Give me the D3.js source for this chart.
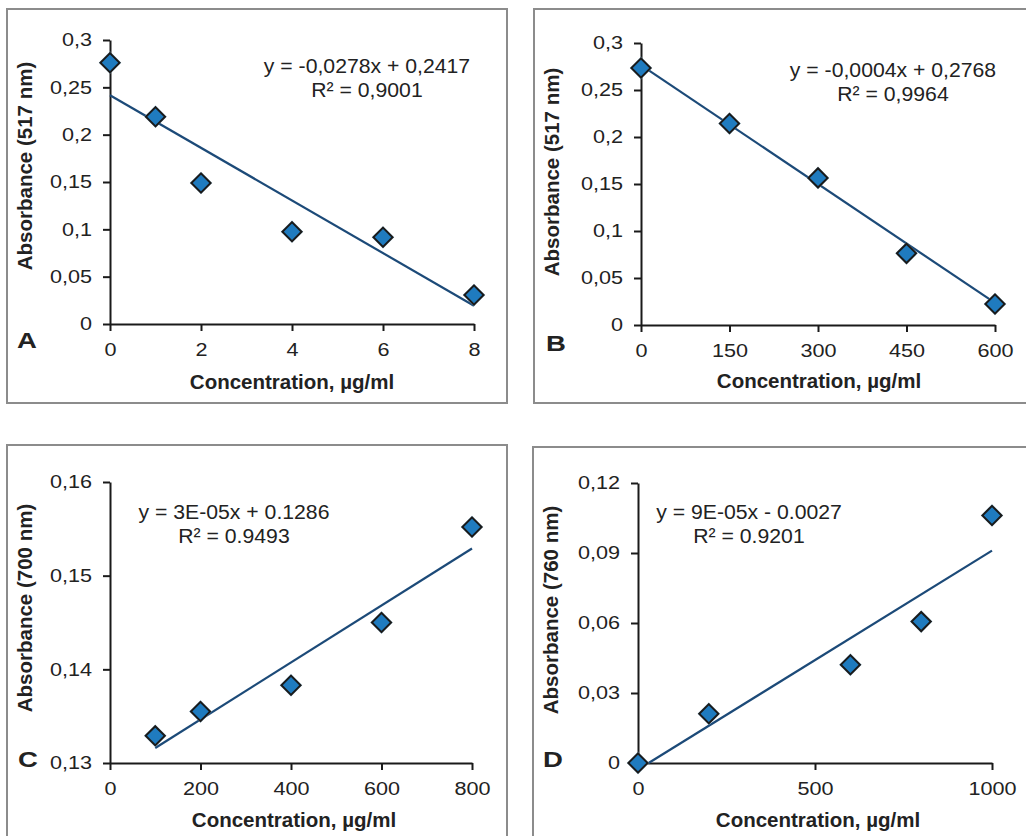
<!DOCTYPE html>
<html>
<head>
<meta charset="utf-8">
<script src="https://cdn.jsdelivr.net/npm/d3@7"></script>
<style>
  body { margin: 0; background: #fff; }
  svg { display: block; font-family: "Liberation Sans", Arial, sans-serif; }
</style>
</head>
<body>
<svg id="chart"></svg>
<script>
// panel A: DPPH at 517 nm
const concA = [0, 1, 2, 4, 6, 8];
const absA = [0.276, 0.219, 0.149, 0.0975, 0.0916, 0.0306];
const trendA = [[0, 0.2417], [8, 0.0193]];
const xTicksA = [0, 2, 4, 6, 8];
const yTicksA = [0, 0.05, 0.1, 0.15, 0.2, 0.25, 0.3];
const eqA = ["y = -0,0278x + 0,2417", "R² = 0,9001"];

// panel B: DPPH at 517 nm
const concB = [0, 150, 300, 450, 600];
const absB = [0.2734, 0.2143, 0.1565, 0.0762, 0.0223];
const trendB = [[0, 0.2765], [600, 0.0235]];
const xTicksB = [0, 150, 300, 450, 600];
const yTicksB = [0, 0.05, 0.1, 0.15, 0.2, 0.25, 0.3];
const eqB = ["y = -0,0004x + 0,2768", "R² = 0,9964"];

// panel C: reducing power at 700 nm
const concC = [100, 200, 400, 600, 800];
const absC = [0.1329, 0.1355, 0.1383, 0.1450, 0.1552];
const trendC = [[100, 0.1316], [800, 0.1529]];
const xTicksC = [0, 200, 400, 600, 800];
const yTicksC = [0.13, 0.14, 0.15, 0.16];
const eqC = ["y = 3E-05x + 0.1286", "R² = 0.9493"];

// panel D: at 760 nm
const concD = [0, 200, 600, 800, 1000];
const absD = [0, 0.0211, 0.0421, 0.0606, 0.1061];
const trendD = [[30, 0], [1000, 0.091]];
const xTicksD = [0, 500, 1000];
const yTicksD = [0, 0.03, 0.06, 0.09, 0.12];
const eqD = ["y = 9E-05x - 0.0027", "R² = 0.9201"];

const xTitle = "Concentration, µg/ml";

const width = 1026;
const height = 836;

const svg = d3.select("#chart")
    .attr("width", width)
    .attr("height", height);

const panels = [
  { letter: "A", x: concA, y: absA, trend: trendA, xt: xTicksA, yt: yTicksA, eq: eqA,
    ytitle: "Absorbance (517 nm)", xd: [0, 8], yd: [0, 0.3],
    box: [7, 9, 500, 394], px: [110, 474], py: [324, 40],
    ytx: 32, yty: 166, xtx: 292, xty: 389, lx: 17, ly: 348, eqx: 367, eqy: 73 },
  { letter: "B", x: concB, y: absB, trend: trendB, xt: xTicksB, yt: yTicksB, eq: eqB,
    ytitle: "Absorbance (517 nm)", xd: [0, 600], yd: [0, 0.3],
    box: [534, 9, 500, 394], px: [641, 995], py: [325, 43],
    ytx: 559, yty: 172, xtx: 819, xty: 388, lx: 546, ly: 351, eqx: 893, eqy: 77 },
  { letter: "C", x: concC, y: absC, trend: trendC, xt: xTicksC, yt: yTicksC, eq: eqC,
    ytitle: "Absorbance (700 nm)", xd: [0, 800], yd: [0.13, 0.16],
    box: [7, 445, 500, 400], px: [110, 472], py: [763, 482],
    ytx: 32, yty: 608, xtx: 294, xty: 827, lx: 18, ly: 767, eqx: 234, eqy: 519 },
  { letter: "D", x: concD, y: absD, trend: trendD, xt: xTicksD, yt: yTicksD, eq: eqD,
    ytitle: "Absorbance (760  nm)", xd: [0, 1000], yd: [0, 0.12],
    box: [533, 447, 500, 400], px: [638, 992], py: [763, 483],
    ytx: 558, yty: 610, xtx: 818, xty: 827, lx: 543, ly: 767, eqx: 749, eqy: 519 }
];

const comma = d => String(d).replace(".", ",");

// the source text looks a bit wider than Arial, so stretch it
function stretch(sel, k) {
  sel.each(function() {
    const len = this.getComputedTextLength();
    d3.select(this)
      .attr("textLength", len * k)
      .attr("lengthAdjust", "spacingAndGlyphs");
  });
}

panels.forEach(function(p) {
  const g = svg.append("g");

  g.append("rect")
      .attr("x", p.box[0])
      .attr("y", p.box[1])
      .attr("width", p.box[2])
      .attr("height", p.box[3])
      .attr("fill", "none")
      .attr("stroke", "#8c8c8c")
      .attr("stroke-width", 2);

  const xScale = d3.scaleLinear().domain(p.xd).range(p.px);
  const yScale = d3.scaleLinear().domain(p.yd).range(p.py);

  const yAxis = g.append("g")
      .attr("transform", `translate(${p.px[0]}, 0)`)
      .call(d3.axisLeft(yScale).tickValues(p.yt).tickSize(7).tickSizeOuter(0)
        .tickPadding(11).tickFormat(comma));

  const xAxis = g.append("g")
      .attr("transform", `translate(0, ${p.py[0]})`)
      .call(d3.axisBottom(xScale).tickValues(p.xt).tickSize(7).tickSizeOuter(0)
        .tickPadding(12).tickFormat(d => d));

  [yAxis, xAxis].forEach(function(ax) {
    ax.select(".domain").attr("stroke", "#1a1a1a").attr("stroke-width", 2);
    ax.selectAll(".tick line").attr("stroke", "#1a1a1a").attr("stroke-width", 2);
    ax.selectAll(".tick text")
        .attr("fill", "#222")
        .style("font-size", "18px")
        .style("font-family", "'Liberation Sans', Arial, sans-serif")
        .call(stretch, 1.2);
  });

  // trend line
  g.append("path")
      .datum(p.trend)
      .attr("fill", "none")
      .attr("stroke", "#1c4a78")
      .attr("stroke-width", 2.2)
      .attr("d", d3.line().x(d => xScale(d[0])).y(d => yScale(d[1])));

  // diamonds
  const pts = p.x.map((v, i) => [v, p.y[i]]);
  const diamond = d3.symbol(d3.symbolSquare, 185);

  g.selectAll(".halo")
      .data(pts)
      .join("path")
      .attr("class", "halo")
      .attr("transform", d => `translate(${xScale(d[0])}, ${yScale(d[1])}) rotate(45)`)
      .attr("d", d3.symbol(d3.symbolSquare, 260))
      .attr("fill", "#9fd0ee")
      .attr("opacity", 0.6);

  g.selectAll(".pt")
      .data(pts)
      .join("path")
      .attr("class", "pt")
      .attr("transform", d => `translate(${xScale(d[0])}, ${yScale(d[1])}) rotate(45)`)
      .attr("d", diamond)
      .attr("fill", "#1f7bbf")
      .attr("stroke", "#1a1a1a")
      .attr("stroke-width", 2);

  // equation
  g.selectAll(".eq")
      .data(p.eq)
      .join("text")
      .attr("class", "eq")
      .attr("x", p.eqx)
      .attr("y", (d, i) => p.eqy + i * 24)
      .attr("text-anchor", "middle")
      .attr("fill", "#222")
      .style("font-size", "20px")
      .text(d => d)
      .call(stretch, 1.06);

  // axis titles
  g.append("text")
      .attr("x", p.xtx)
      .attr("y", p.xty)
      .attr("text-anchor", "middle")
      .attr("fill", "#222")
      .style("font-size", "20.5px")
      .style("font-weight", "bold")
      .text(xTitle);

  g.append("text")
      .attr("transform", `translate(${p.ytx}, ${p.yty}) rotate(-90)`)
      .attr("text-anchor", "middle")
      .attr("fill", "#222")
      .style("font-size", "20.5px")
      .style("font-weight", "bold")
      .text(p.ytitle);

  // panel letter
  g.append("text")
      .attr("x", p.lx)
      .attr("y", p.ly)
      .attr("fill", "#222")
      .style("font-size", "22px")
      .style("font-weight", "bold")
      .text(p.letter)
      .call(stretch, 1.25);
});
</script>
</body>
</html>
